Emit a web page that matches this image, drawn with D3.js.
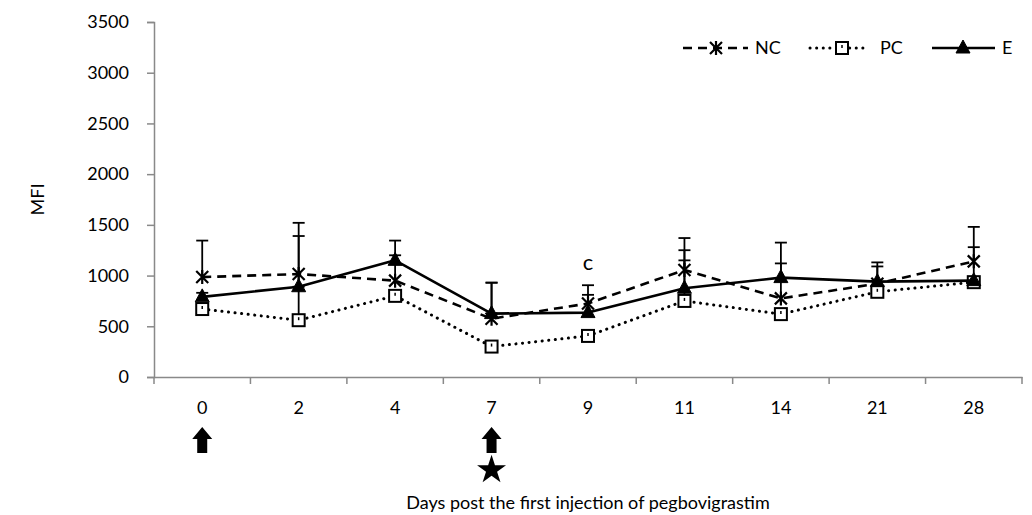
<!DOCTYPE html>
<html>
<head>
<meta charset="utf-8">
<script src="https://cdn.jsdelivr.net/npm/d3@7"></script>
<style>
  html, body { margin: 0; padding: 0; background: #fff; }
  svg { display: block; font-family: Lato, "Open Sans", sans-serif; }
</style>
</head>
<body>
<svg id="chart" width="1032" height="515"></svg>
<script>
// ---- data ----
const days = ["0", "2", "4", "7", "9", "11", "14", "21", "28"];
const ncValues = [985, 1015, 950, 575, 725, 1055, 775, 920, 1140];
const pcValues = [670, 560, 800, 300, 405, 750, 620, 840, 935];
const eValues  = [790, 890, 1150, 625, 635, 875, 980, 940, 950];
const ncErrors = [360, 505, 250, 355, 180, 315, 345, 170, 340];
const pcErrors = [40, 330, 40, 40, 40, 400, 40, 40, 40];
const eErrors  = [40, 500, 195, 305, 175, 375, 345, 190, 330];
const yTicks = [0, 500, 1000, 1500, 2000, 2500, 3000, 3500];
const seriesNames = ["NC", "PC", "E"];
const injectionDays = ["0", "7"];
const starDays = ["7"];
const annotations = [{ day: "9", text: "c", value: 1120 }];

// ---- layout ----
const svg = d3.select("#chart");
const pL = 154, pR = 1022, pT = 22, pB = 377;
const x = d3.scaleBand().domain(days).range([pL, pR]).padding(0);
const y = d3.scaleLinear().domain([0, 3500]).range([pB, pT]);
const axisColor = "#898989";

// y axis
const yAxis = svg.append("g").attr("transform", `translate(${pL},0)`)
  .call(d3.axisLeft(y).tickValues(yTicks).tickSize(7).tickPadding(18).tickFormat(d3.format("d")));
yAxis.select(".domain").attr("stroke", axisColor).attr("stroke-width", 1.5);
yAxis.selectAll(".tick line").attr("stroke", axisColor).attr("stroke-width", 1.5);
yAxis.selectAll(".tick text").attr("fill", "#000").attr("font-size", 18).attr("font-family", "Lato, sans-serif");

// x axis (labels centered, ticks at band boundaries)
const xAxis = svg.append("g").attr("transform", `translate(0,${pB})`)
  .call(d3.axisBottom(x).tickSize(0).tickPadding(24));
xAxis.select(".domain").attr("stroke", axisColor).attr("stroke-width", 1.5);
xAxis.selectAll(".tick text").attr("fill", "#000").attr("font-size", 18).attr("font-family", "Lato, sans-serif");
const bounds = days.map(d => x(d)).concat([x(days[days.length - 1]) + x.bandwidth()]);
svg.append("g").selectAll("line").data(bounds).join("line")
  .attr("x1", d => d).attr("x2", d => d)
  .attr("y1", pB).attr("y2", pB + 7)
  .attr("stroke", axisColor).attr("stroke-width", 1.5);

// axis titles
svg.append("text").attr("transform", `translate(44,${(pT + pB) / 2}) rotate(-90)`)
  .attr("text-anchor", "middle").attr("font-size", 18).text("MFI");
svg.append("text").attr("x", (pL + pR) / 2).attr("y", 509)
  .attr("text-anchor", "middle").attr("font-size", 18)
  .text("Days post the first injection of pegbovigrastim");

const cx = d => x(d) + x.bandwidth() / 2;

const series = [
  { name: "NC", values: ncValues, errors: ncErrors, dash: "9,6", cap: "butt" },
  { name: "PC", values: pcValues, errors: pcErrors, dash: "0.1,6.5", cap: "round" },
  { name: "E",  values: eValues,  errors: eErrors,  dash: null, cap: "butt" }
];

// error bars (plus direction)
series.forEach(s => {
  const g = svg.append("g");
  days.forEach((d, i) => {
    const xx = cx(d), y0 = y(s.values[i]), y1 = y(s.values[i] + s.errors[i]);
    g.append("line").attr("x1", xx).attr("x2", xx).attr("y1", y0).attr("y2", y1)
      .attr("stroke", "#000").attr("stroke-width", 1.8);
    g.append("line").attr("x1", xx - 6).attr("x2", xx + 6).attr("y1", y1).attr("y2", y1)
      .attr("stroke", "#000").attr("stroke-width", 1.8);
  });
});

// marker drawing helpers
function drawMarker(g, name, px, py) {
  if (name === "NC") {
    const r = 6;
    g.append("path").attr("d", `M${px - r},${py - r}L${px + r},${py + r}M${px - r},${py + r}L${px + r},${py - r}M${px},${py - r - 1}L${px},${py + r + 1}`)
      .attr("stroke", "#000").attr("stroke-width", 2.2).attr("fill", "none");
  } else if (name === "PC") {
    g.append("rect").attr("x", px - 6).attr("y", py - 6).attr("width", 12).attr("height", 12)
      .attr("fill", "#fff").attr("stroke", "#000").attr("stroke-width", 2);
    g.append("line").attr("x1", px).attr("x2", px).attr("y1", py).attr("y2", py - 3)
      .attr("stroke", "#000").attr("stroke-width", 1.5);
  } else {
    g.append("path").attr("d", `M${px},${py - 8}L${px + 7},${py + 5}L${px - 7},${py + 5}Z`)
      .attr("fill", "#000").attr("stroke", "#000").attr("stroke-width", 1);
  }
}

// lines + markers
series.forEach(s => {
  const line = d3.line().x((v, i) => cx(days[i])).y(v => y(v));
  const p = svg.append("path").datum(s.values).attr("d", line)
    .attr("fill", "none").attr("stroke", "#000").attr("stroke-width", s.name === "PC" ? 3 : 2.6)
    .attr("stroke-linecap", s.cap).attr("stroke-linejoin", "round");
  if (s.dash) p.attr("stroke-dasharray", s.dash);
  const g = svg.append("g");
  s.values.forEach((v, i) => drawMarker(g, s.name, cx(days[i]), y(v)));
});

// annotation
annotations.forEach(a => {
  svg.append("text").attr("x", cx(a.day)).attr("y", y(a.value) + 7)
    .attr("text-anchor", "middle").attr("font-size", 22).text(a.text);
});

// legend
const legendItems = [
  { name: "NC", x1: 683, x2: 748, mx: 716, tx: 755 },
  { name: "PC", x1: 810, x2: 868, mx: 842, tx: 880 },
  { name: "E",  x1: 932, x2: 995, mx: 963, tx: 1002 }
];
const ly = 48;
legendItems.forEach(li => {
  const s = series.find(q => q.name === li.name);
  const g = svg.append("g");
  const l = g.append("line").attr("x1", li.x1).attr("x2", li.x2).attr("y1", ly).attr("y2", ly)
    .attr("stroke", "#000").attr("stroke-width", s.name === "PC" ? 3 : 2.6).attr("stroke-linecap", s.cap);
  if (s.dash) l.attr("stroke-dasharray", s.dash);
  drawMarker(g, li.name, li.mx, ly);
  g.append("text").attr("x", li.tx).attr("y", ly + 6).attr("font-size", 18).text(li.name);
});

// injection arrows and star below axis
function arrow(px) {
  const t0 = 427;
  svg.append("path")
    .attr("d", `M${px},${t0}L${px + 10},${t0 + 12}L${px + 5},${t0 + 12}L${px + 5},${t0 + 26}L${px - 5},${t0 + 26}L${px - 5},${t0 + 12}L${px - 10},${t0 + 12}Z`)
    .attr("fill", "#000");
}
injectionDays.forEach(d => arrow(cx(d)));
starDays.forEach(d => {
  svg.append("path").attr("d", d3.symbol().type(d3.symbolStar).size(260)())
    .attr("transform", `translate(${cx(d)},${470})`).attr("fill", "#000");
});
</script>
</body>
</html>
